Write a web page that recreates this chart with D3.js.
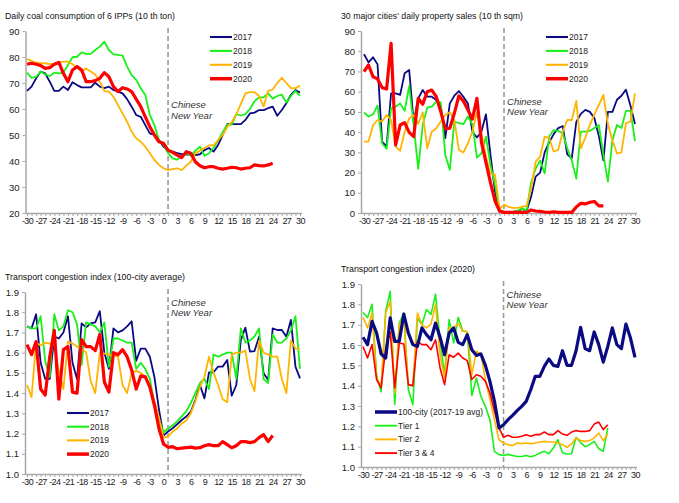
<!DOCTYPE html>
<html>
<head>
<meta charset="utf-8">
<script src="https://cdn.jsdelivr.net/npm/d3@7/dist/d3.min.js"></script>
<style>
  body { margin: 0; background: #fff; }
  svg text { font-family: "Liberation Sans", Arial, sans-serif; }
</style>
</head>
<body>
<svg id="chart" width="679" height="503"></svg>
<script>
// days relative to Chinese New Year
const days = d3.range(-30, 31);
const xTickDays = d3.range(-30, 31, 3);
const cnyDay = 1;

// daily coal consumption of 6 IPPs (10 th ton)
const coal2017 = [67, 68.6, 71.8, 74.4, 73.7, 70.5, 67, 67, 68.6, 67.3, 70.3, 69.2, 68.3, 68.3, 68.3, 70.1, 68.6, 68, 68.6, 67.3, 66.7, 66, 63.8, 60.9, 57.7, 57, 53.8, 50.6, 50, 48, 45.5,
  44.2, 43.6, 43, 42.6, 42.6, 42.3, 42.3, 42.6, 44.2, 45, 43.6, 46.2, 50, 54.2, 54.2, 54.2, 54.2, 55.8, 58.3, 58.6, 59.6, 59.6, 60.3, 60.9, 57.4, 59.6, 62.2, 65.4, 67.3, 66.3];
const coal2018 = [74, 72, 72.4, 74.4, 73.3, 72.7, 74, 73.7, 74, 76.9, 79.9, 80.1, 81.8, 81.2, 81.2, 82.7, 84, 85.9, 82.7, 81, 80.8, 80.5, 76.3, 73, 71.2, 68, 65.4, 57.7, 53.8, 48, 46.2,
  43, 41, 40.5, 42, 43, 42, 44, 45.5, 42, 43, 45, 48, 51, 54, 54, 58, 57.5, 58, 60, 63, 64.5, 64.5, 66, 64, 65, 65.5, 62.5, 65, 67, 65];
const coal2019 = [79.2, 78.5, 77.8, 77.6, 77.6, 77.3, 77.3, 77.9, 78.2, 78.2, 77.2, 75.9, 74.4, 75.6, 74.4, 73.3, 70.5, 66.9, 66.7, 64.7, 61.5, 58.3, 55.1, 51.3, 48.7, 47.4, 45.5, 43, 40.4, 38.5, 37.2,
  36.5, 36.9, 37.2, 36.5, 38.2, 39.7, 43, 44, 45, 46, 46, 48, 50, 53, 55, 58, 62, 66, 66.5, 66.5, 65, 61, 67, 67.5, 70, 72, 70, 68, 68, 69];
const coal2020 = [77.2, 77.6, 77.2, 76.7, 75.6, 75.9, 77.2, 77.9, 73.7, 70.5, 75, 76.3, 75, 70.5, 70.5, 70.9, 71.8, 74, 72.4, 68.6, 66.7, 68.2, 67.7, 66.7, 63.8, 60.9, 57, 53.2, 50, 47.4, 46.8,
  44.2, 43.3, 42.3, 41.3, 43.6, 43, 39.7, 38.2, 37.4, 37.8, 37.8, 37.2, 36.9, 37.2, 37.6, 37.4, 36.9, 37.2, 37.4, 38.5, 38.2, 38.1, 38.5, 39.1];

// 30 major cities' daily property sales (10 th sqm)
const prop2017 = [78.5, 74.5, 77, 73.5, 35.3, 32.8, 59.2, 59.2, 58.4, 69.1, 70.7, 45, 56.7, 60.8, 57.5, 57.5, 55.9, 52.6, 37, 54.2, 58, 60.3, 57.5, 54.2, 40.2, 37.3, 40.2, 48.8, 28.7, 10.6, 0.7,
  0.5, 0.5, 0.5, 1, 2, 1, 8, 18, 20, 30, 35, 39, 42, 43, 29, 27, 45, 49, 51, 50, 47, 38, 26, 50, 50, 56, 58, 61, 53, 44];
const prop2018 = [49.8, 47.7, 48.8, 53.1, 34.5, 31.7, 51.8, 52.6, 54.2, 50.5, 62.8, 43.5, 21.8, 43.5, 52.1, 52.6, 55.1, 54.7, 28.7, 21.3, 45.2, 44.4, 43.9, 47.7, 43.9, 27.4, 29.5, 37.8, 23.8, 13.9, 1.5,
  0.5, 0.5, 0.5, 1, 2.5, 1, 15, 22, 26, 19.6, 37.8, 41, 40.6, 39.4, 32, 26, 17, 40.2, 40.2, 40.6, 42, 43.5, 28.7, 15.5, 36, 43.5, 42, 50.5, 50.5, 35.5];
const prop2019 = [35.3, 35.3, 43.5, 46, 45.2, 48.5, 46, 32.8, 30.7, 40.2, 46.8, 48.5, 44, 49.8, 32, 40.2, 41.9, 45.2, 48.5, 49.8, 46, 31.2, 29.9, 34.5, 40.2, 49.8, 39.4, 28, 19.5, 19, 2,
  4, 3, 2.5, 2.5, 3, 3.5, 12, 25.4, 27.9, 37.8, 37, 30.4, 31.2, 40.2, 46, 46, 55.4, 32, 37.3, 43.5, 48.8, 53.4, 58.4, 44, 36, 29.5, 30, 44.4, 45.2, 59.2];
const prop2020 = [69.9, 73.2, 67.4, 66.3, 62, 61.3, 83.9, 33.7, 43.5, 44.7, 39.9, 37.8, 56.7, 53.8, 60, 60.8, 57.5, 50.1, 41.6, 41.9, 49.3, 57.9, 55.4, 51, 46.5, 56.7, 35, 25, 15, 6, 1,
  0.3, 0.3, 0.3, 0.3, 0.3, 0.3, 1.5, 1, 0.8, 0.5, 0.3, 0.6, 0.3, 0.3, 0.3, 0.3, 3, 4.8, 4.5, 5.3, 5.7, 3.5, 3.5];

// transport congestion index, 100-city average
const cong2017 = [1.73, 1.72, 1.79, 1.55, 1.47, 1.47, 1.68, 1.67, 1.70, 1.78, 1.55, 1.47, 1.745, 1.725, 1.745, 1.75, 1.805, 1.60, 1.52, 1.72, 1.70, 1.71, 1.73, 1.755, 1.56, 1.62, 1.62, 1.58, 1.48, 1.32, 1.19,
  1.21, 1.226, 1.246, 1.267, 1.284, 1.308, 1.366, 1.44, 1.374, 1.503, 1.503, 1.531, 1.531, 1.564, 1.387, 1.44, 1.663, 1.724, 1.605, 1.608, 1.679, 1.498, 1.465, 1.72, 1.712, 1.712, 1.679, 1.762, 1.531, 1.473];
const cong2018 = [1.73, 1.72, 1.72, 1.78, 1.56, 1.48, 1.79, 1.71, 1.73, 1.81, 1.80, 1.74, 1.54, 1.75, 1.74, 1.73, 1.70, 1.75, 1.53, 1.67, 1.67, 1.66, 1.65, 1.65, 1.52, 1.55, 1.52, 1.47, 1.35, 1.27, 1.205,
  1.225, 1.24, 1.26, 1.285, 1.31, 1.35, 1.40, 1.45, 1.47, 1.42, 1.59, 1.58, 1.59, 1.60, 1.60, 1.47, 1.72, 1.65, 1.66, 1.68, 1.72, 1.47, 1.45, 1.69, 1.65, 1.65, 1.67, 1.71, 1.78, 1.52];
const cong2019 = [1.44, 1.38, 1.65, 1.635, 1.65, 1.645, 1.64, 1.51, 1.42, 1.655, 1.645, 1.63, 1.62, 1.60, 1.46, 1.40, 1.60, 1.595, 1.59, 1.585, 1.58, 1.44, 1.40, 1.50, 1.51, 1.50, 1.48, 1.44, 1.36, 1.28, 1.18,
  1.185, 1.21, 1.225, 1.25, 1.265, 1.30, 1.36, 1.43, 1.48, 1.58, 1.50, 1.44, 1.37, 1.355, 1.59, 1.60, 1.60, 1.61, 1.47, 1.41, 1.66, 1.60, 1.59, 1.58, 1.58, 1.47, 1.40, 1.66, 1.62, 1.62];
const cong2020 = [1.64, 1.59, 1.655, 1.42, 1.39, 1.58, 1.71, 1.37, 1.615, 1.63, 1.405, 1.40, 1.665, 1.63, 1.63, 1.61, 1.69, 1.455, 1.405, 1.60, 1.59, 1.615, 1.58, 1.515, 1.42, 1.485, 1.48, 1.43, 1.34, 1.225, 1.148,
  1.132, 1.135, 1.125, 1.128, 1.13, 1.133, 1.128, 1.13, 1.14, 1.145, 1.14, 1.14, 1.16, 1.145, 1.13, 1.14, 1.16, 1.16, 1.155, 1.16, 1.18, 1.195, 1.16, 1.19];

// transport congestion index 2020, by city tier
const cityAvg = [1.638, 1.602, 1.716, 1.659, 1.556, 1.536, 1.733, 1.618, 1.618, 1.752, 1.659, 1.602, 1.593, 1.684, 1.651, 1.626, 1.708, 1.638, 1.552, 1.659, 1.684, 1.613, 1.602, 1.651, 1.577, 1.549, 1.556, 1.50, 1.421, 1.323, 1.192,
  1.208, 1.233, 1.254, 1.277, 1.298, 1.323, 1.38, 1.446, 1.446, 1.495, 1.531, 1.50, 1.495, 1.572, 1.50, 1.50, 1.572, 1.687, 1.582, 1.572, 1.664, 1.602, 1.516, 1.593, 1.684, 1.602, 1.582, 1.703, 1.634, 1.539];
const tier1 = [1.76, 1.735, 1.80, 1.45, 1.37, 1.766, 1.864, 1.307, 1.708, 1.757, 1.38, 1.307, 1.733, 1.70, 1.774, 1.75, 1.85, 1.618, 1.454, 1.725, 1.61, 1.736, 1.67, 1.664, 1.352, 1.438, 1.348, 1.298, 1.233, 1.077, 1.061,
  1.057, 1.062, 1.057, 1.052, 1.052, 1.057, 1.05, 1.057, 1.069, 1.077, 1.065, 1.093, 1.134, 1.07, 1.064, 1.065, 1.146, 1.12, 1.10, 1.11, 1.126, 1.09, 1.077, 1.192];
const tier2 = [1.736, 1.684, 1.757, 1.44, 1.397, 1.757, 1.815, 1.364, 1.70, 1.733, 1.405, 1.40, 1.757, 1.70, 1.684, 1.703, 1.80, 1.552, 1.438, 1.684, 1.684, 1.708, 1.667, 1.667, 1.454, 1.569, 1.556, 1.43, 1.331, 1.233, 1.134,
  1.118, 1.11, 1.105, 1.118, 1.115, 1.118, 1.115, 1.118, 1.123, 1.126, 1.123, 1.123, 1.118, 1.11, 1.097, 1.113, 1.143, 1.13, 1.126, 1.13, 1.143, 1.167, 1.13, 1.162];
const tier34 = [1.593, 1.536, 1.602, 1.43, 1.389, 1.585, 1.664, 1.389, 1.61, 1.605, 1.405, 1.40, 1.618, 1.602, 1.602, 1.577, 1.626, 1.487, 1.405, 1.552, 1.54, 1.56, 1.536, 1.523, 1.43, 1.454, 1.446, 1.421, 1.364, 1.274, 1.192,
  1.146, 1.156, 1.146, 1.146, 1.151, 1.159, 1.151, 1.159, 1.159, 1.172, 1.159, 1.159, 1.179, 1.162, 1.156, 1.172, 1.179, 1.175, 1.175, 1.179, 1.211, 1.221, 1.184, 1.208];

const NAVY = '#0a0a82', GREEN = '#19f019', ORANGE = '#ffb400', RED = '#ff0000';

const yearSeries = (a, b, c, d) => [
  { name: '2017', values: a, color: NAVY, width: 1.8 },
  { name: '2018', values: b, color: GREEN, width: 1.8 },
  { name: '2019', values: c, color: ORANGE, width: 1.8 },
  { name: '2020', values: d, color: RED, width: 3.2 }
];

const panels = [
  {
    title: 'Daily  coal consumption of 6 IPPs  (10 th ton)', titleX: 5, titleY: 18.5, titleW: 170,
    axisX: 25.5, x0: 27, x1: 300, top: 31, bottom: 213,
    yDomain: [20, 90], yTicks: d3.range(20, 91, 10), fmt: d => String(d),
    series: yearSeries(coal2017, coal2018, coal2019, coal2020),
    legend: { x: 210, y: 37, step: 13.9, len: 22 }, cnyDy: 77
  },
  {
    title: "30 major cities' daily property sales (10 th sqm)", titleX: 341, titleY: 18.5, titleW: 182,
    axisX: 361, x0: 364, x1: 635, top: 31, bottom: 213,
    yDomain: [0, 90], yTicks: d3.range(0, 91, 10), fmt: d => String(d),
    series: yearSeries(prop2017, prop2018, prop2019, prop2020),
    legend: { x: 546, y: 37, step: 13.9, len: 22 }, cnyDy: 73.5
  },
  {
    title: 'Transport congestion index (100-city average)', titleX: 5, titleY: 280, titleW: 180,
    axisX: 25, x0: 27, x1: 300, top: 292, bottom: 474,
    yDomain: [1.0, 1.9], yTicks: d3.range(10, 20).map(v => v / 10), fmt: d3.format('.1f'),
    series: yearSeries(cong2017, cong2018, cong2019, cong2020),
    legend: { x: 67, y: 413, step: 13.7, len: 22 }, cnyDy: 13.7
  },
  {
    title: 'Transport congestion index (2020)', titleX: 341, titleY: 272, titleW: 134,
    axisX: 361, x0: 363, x1: 635, top: 284, bottom: 467,
    yDomain: [1.0, 1.9], yTicks: d3.range(10, 20).map(v => v / 10), fmt: d3.format('.1f'),
    series: [
      { name: '100-city (2017-19 avg)', values: cityAvg, color: NAVY, width: 3.2, front: true },
      { name: 'Tier 1', values: tier1, color: GREEN, width: 1.6 },
      { name: 'Tier 2', values: tier2, color: ORANGE, width: 1.6 },
      { name: 'Tier 3 & 4', values: tier34, color: RED, width: 1.6 }
    ],
    legend: { x: 375, y: 412, step: 13.7, len: 22 }, cnyDy: 13.5
  }
];

const svg = d3.select('#chart');

function drawPanel(p) {
  const x = d3.scaleLinear().domain([-30, 30]).range([p.x0, p.x1]);
  const y = d3.scaleLinear().domain(p.yDomain).range([p.bottom, p.top]);
  const g = svg.append('g');

  g.append('text')
    .attr('x', p.titleX).attr('y', p.titleY)
    .attr('textLength', p.titleW).attr('lengthAdjust', 'spacingAndGlyphs')
    .attr('font-size', 9).attr('fill', '#111')
    .text(p.title);

  // y axis
  const yAxis = g.append('g')
    .attr('transform', `translate(${p.axisX},0)`)
    .call(d3.axisLeft(y).tickValues(p.yTicks).tickFormat(p.fmt).tickSize(3).tickSizeOuter(0).tickPadding(3));
  yAxis.select('.domain').attr('stroke', '#a8a8a8').attr('stroke-width', 1.5);
  yAxis.selectAll('.tick line').attr('stroke', '#a8a8a8');
  yAxis.selectAll('.tick text').attr('font-size', 9.5).attr('fill', '#222').attr('font-family', '"Liberation Sans", Arial, sans-serif');

  // x axis: minor tick at every day, labels every 3 days
  const xAxis = g.append('g')
    .attr('transform', `translate(0,${p.bottom})`)
    .call(d3.axisBottom(x).tickValues(days).tickFormat('').tickSize(3).tickSizeOuter(0));
  xAxis.select('.domain').attr('d', `M${p.axisX},0.5H${p.x1 + 2}`).attr('stroke', '#a8a8a8').attr('stroke-width', 1.5);
  xAxis.selectAll('.tick line').attr('stroke', '#a8a8a8');

  // plain hyphen-minus labels, like the source
  const xLab = g.append('g')
    .attr('transform', `translate(0,${p.bottom})`)
    .call(d3.axisBottom(x).tickValues(xTickDays).tickFormat(d => String(d)).tickSize(0).tickPadding(5));
  xLab.select('.domain').remove();
  xLab.selectAll('.tick text').attr('font-size', 9).attr('letter-spacing', -0.6)
    .attr('fill', '#222').attr('font-family', '"Liberation Sans", Arial, sans-serif');

  // Chinese New Year marker
  g.append('line')
    .attr('x1', x(cnyDay)).attr('x2', x(cnyDay))
    .attr('y1', p.top - 3).attr('y2', p.bottom)
    .attr('stroke', '#9a9a9a').attr('stroke-width', 1.6).attr('stroke-dasharray', '5,3');
  const cny = g.append('text')
    .attr('x', x(cnyDay) + 3).attr('y', p.top + p.cnyDy)
    .attr('font-size', 9.5).attr('font-style', 'italic').attr('fill', '#333');
  cny.append('tspan').attr('x', x(cnyDay) + 3).text('Chinese');
  cny.append('tspan').attr('x', x(cnyDay) + 3).attr('dy', 10.5).text('New Year');

  // series
  const line = d3.line().x((v, i) => x(days[i])).y(v => y(v));
  const order = p.series.filter(s => !s.front).concat(p.series.filter(s => s.front));
  g.selectAll('path.series').data(order).join('path')
    .attr('class', 'series')
    .attr('d', s => line(s.values))
    .attr('fill', 'none')
    .attr('stroke', s => s.color)
    .attr('stroke-width', s => s.width)
    .attr('stroke-linejoin', 'round');

  // legend
  const lg = g.append('g');
  p.series.forEach((s, i) => {
    const ly = p.legend.y + i * p.legend.step;
    lg.append('line')
      .attr('x1', p.legend.x).attr('x2', p.legend.x + p.legend.len)
      .attr('y1', ly).attr('y2', ly)
      .attr('stroke', s.color).attr('stroke-width', s.width + 0.3);
    lg.append('text')
      .attr('x', p.legend.x + p.legend.len + 1).attr('y', ly + 3)
      .attr('font-size', 8.5).attr('fill', '#222')
      .text(s.name);
  });
}

panels.forEach(drawPanel);
</script>
</body>
</html>
